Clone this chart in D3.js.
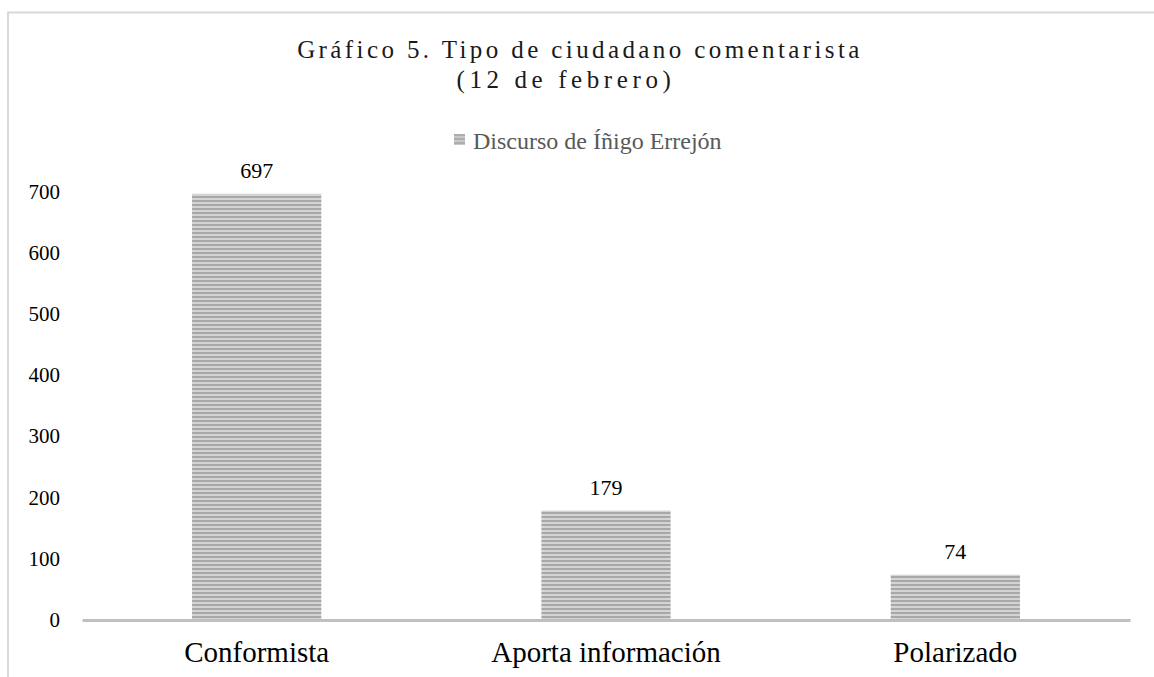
<!DOCTYPE html>
<html>
<head>
<meta charset="utf-8">
<script src="https://cdn.jsdelivr.net/npm/d3@7"></script>
<style>
  body { margin: 0; background: #fff; }
  svg { display: block; font-family: "Liberation Serif", "Times New Roman", serif; }
</style>
</head>
<body>
<div id="chart"></div>
<script>
// Datos del gráfico
const categories = ["Conformista", "Aporta información", "Polarizado"];
const values = [697, 179, 74];
const yTicks = [0, 100, 200, 300, 400, 500, 600, 700];
const seriesName = "Discurso de Íñigo Errejón";
const titleLines = ["Gráfico 5. Tipo de ciudadano comentarista", "(12 de febrero)"];

const W = 1154, H = 677;
const margin = { top: 192, right: 24, bottom: 57, left: 82 };
const baseY = 620; // línea del cero

const svg = d3.select("#chart").append("svg")
    .attr("width", W)
    .attr("height", H);

// Patrón de rayas horizontales
const defs = svg.append("defs");
const pat = defs.append("pattern")
    .attr("id", "rayas")
    .attr("patternUnits", "userSpaceOnUse")
    .attr("width", 8)
    .attr("height", 4);
pat.append("rect").attr("width", 8).attr("height", 4).attr("fill", "#d4d4d4");
pat.append("rect").attr("y", 0).attr("width", 8).attr("height", 2).attr("fill", "#a8a8a8");

// Marco del área del gráfico (solo arriba e izquierda visibles)
svg.append("path")
    .attr("d", `M8,${H} L8,12.5 L${W},12.5`)
    .attr("fill", "none")
    .attr("stroke", "#d9d9d9")
    .attr("stroke-width", 2);

const x = d3.scaleBand()
    .domain(categories)
    .range([margin.left, W - margin.right])
    .padding(0);

const y = d3.scaleLinear()
    .domain([0, 700])
    .range([baseY, margin.top]);

// Título (la segunda línea va algo más espaciada)
svg.append("text")
    .attr("text-anchor", "middle")
    .style("font-size", "25px")
    .attr("fill", "#1a1a1a")
    .selectAll("tspan")
    .data(titleLines)
    .enter()
    .append("tspan")
    .attr("x", (d, i) => i === 0 ? 580 : 566)
    .attr("y", (d, i) => 58 + i * 30)
    .style("letter-spacing", (d, i) => i === 0 ? "3.4px" : "4.6px")
    .text(d => d);

// Leyenda
const legend = svg.append("g").attr("transform", "translate(454,134)");
legend.append("rect")
    .attr("width", 11)
    .attr("height", 11)
    .attr("fill", "#b4b4b4");
legend.append("rect")
    .attr("width", 11)
    .attr("height", 11)
    .attr("fill", "url(#rayas)")
    .attr("opacity", 0.6);
legend.append("text")
    .attr("x", 19)
    .attr("y", 15)
    .style("font-size", "24px")
    .attr("fill", "#595959")
    .text(seriesName);

// Eje Y (solo etiquetas)
const yAxis = d3.axisLeft(y).tickValues(yTicks).tickSize(0).tickPadding(0);
const gy = svg.append("g")
    .attr("transform", `translate(60,0)`)
    .call(yAxis);
gy.select(".domain").remove();
gy.selectAll("text")
    .attr("dy", "0.3em")
    .style("font-size", "21px")
    .style("font-family", "'Liberation Serif', serif")
    .attr("fill", "#000");

// Barras
const barW = x.bandwidth() * 0.37;
svg.selectAll(".bar")
    .data(values)
    .enter().append("rect")
    .attr("class", "bar")
    .attr("x", (d, i) => x(categories[i]) + x.bandwidth() / 2 - barW / 2)
    .attr("y", d => y(d))
    .attr("width", barW)
    .attr("height", d => y(0) - y(d))
    .attr("fill", "url(#rayas)");

// Etiquetas de valor
svg.selectAll(".valor")
    .data(values)
    .enter().append("text")
    .attr("class", "valor")
    .attr("x", (d, i) => x(categories[i]) + x.bandwidth() / 2)
    .attr("y", d => y(d) - 16)
    .attr("text-anchor", "middle")
    .style("font-size", "22px")
    .attr("fill", "#000")
    .text(d => d);

// Eje X
const xAxis = d3.axisBottom(x).tickSize(0).tickPadding(0);
const gx = svg.append("g")
    .attr("transform", `translate(0,${y(0)})`)
    .call(xAxis);
gx.select(".domain")
    .attr("stroke", "#bfbfbf")
    .attr("stroke-width", 3);
gx.selectAll("text")
    .attr("dy", 0)
    .attr("y", 42)
    .style("font-size", "29px")
    .style("font-family", "'Liberation Serif', serif")
    .attr("fill", "#000");
</script>
</body>
</html>
